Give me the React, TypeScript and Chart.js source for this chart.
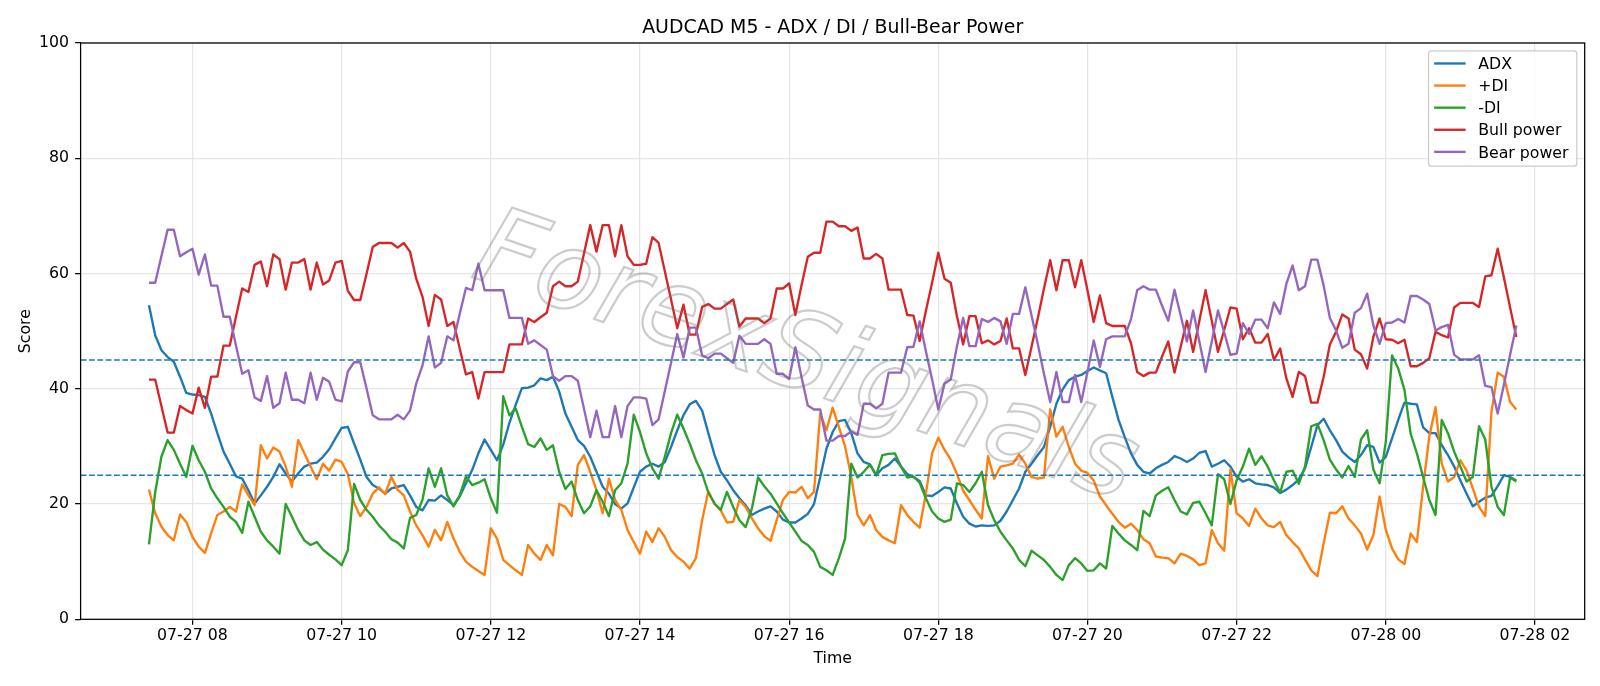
import { useEffect, useRef } from "react";
import { Chart, registerables } from "chart.js";

Chart.register(...registerables);

// M5 candles: first bar at 07-27 07:25, minutes counted from 07-27 00:00
const START_MINUTE = 445;
const STEP_MINUTES = 5;

const ADX = [
  54.5, 49.3, 46.7, 45.5, 44.7, 42.1, 39.3, 39.0, 38.9, 38.6,
  35.7, 32.3, 29.1, 27.0, 24.8, 24.4, 22.4, 20.1, 21.5, 23.0,
  24.7, 26.9, 25.3, 23.9, 25.3, 26.5, 27.0, 27.2, 28.2, 29.5,
  31.4, 33.2, 33.4, 30.5, 27.7, 24.7, 23.3, 22.7, 21.8, 22.7,
  23.0, 23.3, 21.5, 19.5, 18.9, 20.7, 20.6, 21.5, 20.7, 19.8,
  21.3, 23.6, 25.9, 28.8, 31.2, 29.4, 27.6, 30.3, 34.1, 37.2,
  40.1, 40.2, 40.6, 41.8, 41.5, 42.1, 39.5, 35.7, 33.4, 31.1,
  30.1, 28.2, 25.6, 23.0, 21.8, 20.0, 19.2, 20.1, 22.9, 25.6,
  26.5, 27.0, 26.5, 27.3, 29.9, 32.8, 35.4, 37.3, 37.9, 36.2,
  32.3, 28.5, 25.6, 24.1, 22.4, 21.0, 19.8, 18.1, 18.7, 19.2,
  19.6, 18.7, 17.3, 16.8, 16.8, 17.5, 18.3, 20.0, 24.7, 29.6,
  32.5, 34.4, 34.6, 32.3, 28.8, 27.3, 26.9, 25.0, 26.2, 26.8,
  27.9, 26.5, 25.2, 24.7, 24.0, 21.5, 21.4, 22.1, 22.9, 22.7,
  20.1, 17.8, 16.6, 16.1, 16.3, 16.2, 16.3, 17.1, 18.7, 20.7,
  22.7, 25.6, 27.0, 28.5, 29.9, 33.4, 37.4, 39.9, 41.5, 42.1,
  42.4, 43.1, 43.7, 43.2, 42.7, 38.6, 34.6, 31.6, 28.8, 26.8,
  25.6, 25.3, 26.2, 26.8, 27.3, 28.3, 27.9, 27.3, 27.9, 28.9,
  29.2, 26.5, 27.0, 27.6, 26.5, 24.7, 23.9, 24.3, 23.6, 23.4,
  23.3, 22.9, 21.9, 22.5, 23.3, 24.3, 26.2, 29.9, 33.7, 34.8,
  32.8, 31.1, 29.1, 28.1, 27.3, 28.5, 30.2, 29.9, 27.2, 28.2,
  31.4, 34.6, 37.6, 37.4, 37.3, 33.3, 32.3, 32.3, 30.2, 28.5,
  26.5, 24.1, 21.8, 19.6, 20.4, 21.1, 21.4, 23.1, 25.0, 24.7,
  24.1,
];

const PLUS_DI = [
  22.5, 18.4, 16.1, 14.6, 13.7, 18.2, 16.9, 14.3, 12.6, 11.5,
  14.9, 18.1, 18.7, 19.5, 18.7, 23.4, 21.5, 19.8, 30.2, 27.9,
  29.8, 29.1, 26.5, 23.0, 31.1, 28.8, 26.5, 24.3, 27.0, 25.8,
  27.7, 27.3, 25.2, 20.2, 17.9, 19.5, 21.8, 22.9, 21.7, 24.7,
  22.5, 21.5, 18.7, 16.3, 14.6, 12.6, 15.5, 13.7, 16.9, 14.0,
  11.7, 10.0, 9.1, 8.4, 7.7, 15.8, 14.0, 10.3, 9.4, 8.5,
  7.7, 12.9, 11.4, 10.3, 12.9, 11.1, 20.0, 19.5, 17.9, 26.8,
  28.5, 25.6, 22.4, 18.4, 24.4, 20.7, 19.0, 15.5, 13.4, 11.4,
  15.2, 13.4, 15.8, 14.3, 12.0, 10.8, 10.0, 8.8, 10.6, 17.2,
  22.2, 20.0, 18.9, 16.8, 16.9, 20.7, 19.5, 17.5, 15.8, 14.4,
  13.6, 17.2, 20.7, 22.1, 22.0, 23.0, 21.0, 22.1, 35.7, 32.8,
  36.7, 33.4, 30.0, 24.7, 18.1, 16.3, 18.1, 15.5, 14.3, 13.7,
  13.2, 19.8, 18.1, 16.9, 15.9, 21.8, 28.8, 31.5, 29.4, 27.7,
  25.2, 22.3, 20.7, 19.0, 17.5, 28.3, 24.4, 26.5, 26.7, 27.0,
  28.6, 27.0, 24.7, 24.4, 24.6, 36.4, 31.7, 33.4, 29.9, 27.0,
  25.8, 25.4, 24.1, 21.3, 19.8, 18.3, 16.9, 15.9, 16.6, 15.5,
  13.9, 13.2, 10.9, 10.7, 10.6, 9.7, 11.4, 11.0, 10.4, 9.4,
  9.7, 15.5, 13.2, 11.9, 26.0, 18.4, 17.5, 16.2, 19.2, 17.5,
  16.3, 16.0, 16.9, 14.6, 13.4, 12.3, 10.4, 8.5, 7.5, 13.2,
  18.5, 18.4, 19.6, 17.5, 16.3, 14.9, 12.1, 14.6, 21.3, 15.5,
  12.3, 10.4, 9.6, 14.9, 13.4, 23.0, 31.7, 36.8, 27.0, 23.9,
  24.7, 27.6, 25.8, 22.7, 19.5, 17.9, 36.0, 42.8, 42.1, 37.7,
  36.4,
];

const MINUS_DI = [
  13.0, 22.0, 28.2, 31.1, 29.4, 27.0, 24.7, 30.1, 27.6, 25.6,
  22.7, 21.0, 19.5, 17.8, 16.9, 15.0, 20.4, 17.8, 15.2, 13.7,
  12.6, 11.4, 20.0, 17.8, 15.5, 13.7, 12.9, 13.4, 12.1, 11.2,
  10.4, 9.4, 12.0, 23.5, 20.7, 19.0, 17.8, 16.3, 15.2, 13.9,
  13.3, 12.3, 17.6, 18.1, 20.7, 26.2, 23.0, 26.2, 21.5, 19.6,
  21.5, 24.8, 23.3, 23.7, 24.3, 21.0, 18.5, 38.7, 35.4, 36.6,
  33.4, 30.4, 29.9, 31.4, 29.4, 30.2, 25.6, 22.6, 23.9, 20.7,
  18.4, 19.6, 22.4, 20.4, 17.9, 22.4, 23.6, 27.0, 35.5, 32.5,
  28.8, 26.2, 24.4, 28.2, 32.3, 35.5, 33.1, 30.5, 27.6, 25.3,
  22.0, 20.1, 19.0, 22.1, 19.5, 17.2, 16.0, 19.2, 24.6, 23.1,
  21.8, 20.1, 18.4, 16.8, 15.2, 13.6, 12.9, 11.7, 9.1, 8.5,
  7.7, 10.6, 14.0, 27.0, 24.6, 25.6, 26.8, 25.0, 28.5, 28.7,
  28.8, 26.5, 24.6, 24.8, 23.7, 21.0, 18.7, 17.5, 16.9, 17.3,
  23.6, 23.3, 22.1, 23.6, 25.6, 19.8, 17.2, 15.2, 13.7, 12.3,
  10.3, 9.2, 11.9, 11.1, 10.3, 9.1, 7.7, 6.8, 9.4, 10.6,
  9.7, 8.4, 8.5, 9.7, 8.8, 16.2, 14.9, 13.7, 12.9, 12.0,
  18.8, 17.9, 21.5, 22.3, 22.9, 20.7, 18.7, 18.2, 20.2, 20.4,
  18.4, 16.3, 25.2, 24.3, 20.0, 24.1, 26.5, 29.6, 26.8, 28.3,
  26.5, 24.1, 22.0, 25.6, 25.8, 23.5, 26.5, 33.5, 33.9, 31.1,
  27.7, 26.0, 24.6, 26.6, 24.7, 31.2, 32.8, 26.0, 23.6, 30.8,
  45.8, 43.5, 39.8, 32.2, 28.8, 24.7, 20.7, 18.1, 34.6, 32.3,
  29.1, 26.5, 23.9, 24.7, 33.5, 31.2, 23.0, 19.5, 18.1, 24.6,
  23.9,
];

const BULL_POWER = [
  41.6, 41.6, 37.0, 32.4, 32.4, 37.0, 36.3, 35.7, 40.2, 36.7,
  42.1, 42.1, 47.5, 47.5, 52.5, 57.4, 56.8, 61.5, 62.1, 57.8,
  63.3, 62.5, 57.2, 61.9, 61.9, 62.5, 57.2, 61.9, 58.1, 58.8,
  61.9, 62.2, 57.0, 55.4, 55.4, 59.9, 64.6, 65.3, 65.3, 65.3,
  64.5, 65.3, 63.8, 59.1, 56.0, 50.9, 56.3, 55.5, 50.9, 51.6,
  47.0, 42.5, 42.9, 38.3, 42.9, 42.9, 42.9, 42.9, 47.7, 47.7,
  47.7, 52.2, 51.6, 52.4, 53.2, 57.8, 58.6, 57.8, 57.8, 58.6,
  63.5, 68.4, 63.8, 68.4, 68.4, 63.0, 68.4, 63.0, 61.5, 61.5,
  61.7, 66.3, 65.3, 60.4, 55.5, 50.5, 54.6, 49.4, 49.4, 54.2,
  54.7, 53.9, 53.9, 54.7, 55.5, 50.8, 52.2, 52.2, 52.2, 51.4,
  52.2, 57.4, 57.4, 58.3, 52.8, 58.0, 62.9, 63.6, 63.6, 69.0,
  69.0, 68.2, 68.2, 67.4, 68.0, 62.6, 62.6, 63.4, 62.6, 57.2,
  57.2, 57.2, 52.8, 52.7, 48.3, 53.5, 58.4, 63.6, 59.1, 58.4,
  52.6, 47.7, 52.6, 52.6, 47.9, 48.4, 47.7, 48.3, 52.2, 47.0,
  47.0, 42.4, 47.3, 52.2, 57.4, 62.3, 57.1, 62.3, 62.3, 57.6,
  62.3, 57.1, 51.6, 56.2, 51.4, 50.9, 50.9, 50.9, 47.9, 42.9,
  42.2, 42.8, 42.8, 45.6, 48.2, 42.8, 47.3, 51.8, 46.4, 51.8,
  57.1, 51.8, 46.4, 50.2, 54.1, 53.9, 48.6, 50.5, 48.0, 48.0,
  49.5, 45.0, 47.0, 41.8, 38.6, 42.9, 42.2, 37.6, 37.6, 42.1,
  47.7, 49.9, 52.9, 52.2, 46.8, 46.0, 43.5, 49.0, 52.2, 48.6,
  48.5, 47.9, 48.5, 43.9, 43.9, 44.5, 45.3, 49.9, 49.3, 48.9,
  54.1, 54.9, 54.9, 54.9, 54.2, 59.5, 59.7, 64.3, 59.3, 54.1,
  49.0,
];

const BEAR_POWER = [
  58.4, 58.4, 63.0, 67.6, 67.6, 63.0, 63.7, 64.3, 59.8, 63.3,
  57.9, 57.9, 52.5, 52.5, 47.5, 42.6, 43.2, 38.5, 37.9, 42.2,
  36.7, 37.5, 42.8, 38.1, 38.1, 37.5, 42.8, 38.1, 41.9, 41.2,
  38.1, 37.8, 43.0, 44.6, 44.6, 40.1, 35.4, 34.7, 34.7, 34.7,
  35.5, 34.7, 36.2, 40.9, 44.0, 49.1, 43.7, 44.5, 49.1, 48.4,
  53.0, 57.5, 57.1, 61.7, 57.1, 57.1, 57.1, 57.1, 52.3, 52.3,
  52.3, 47.8, 48.4, 47.6, 46.8, 42.2, 41.4, 42.2, 42.2, 41.4,
  36.5, 31.6, 36.2, 31.6, 31.6, 37.0, 31.6, 37.0, 38.5, 38.5,
  38.3, 33.7, 34.7, 39.6, 44.5, 49.5, 45.4, 50.6, 50.6, 45.8,
  45.3, 46.1, 46.1, 45.3, 44.5, 49.2, 47.8, 47.8, 47.8, 48.6,
  47.8, 42.6, 42.6, 41.7, 47.2, 42.0, 37.1, 36.4, 36.4, 31.0,
  31.0, 31.8, 31.8, 32.6, 32.0, 37.4, 37.4, 36.6, 37.4, 42.8,
  42.8, 42.8, 47.2, 47.3, 51.7, 46.5, 41.6, 36.4, 40.9, 41.6,
  47.4, 52.3, 47.4, 47.4, 52.1, 51.6, 52.3, 51.7, 47.8, 53.0,
  53.0, 57.6, 52.7, 47.8, 42.6, 37.7, 42.9, 37.7, 37.7, 42.4,
  37.7, 42.9, 48.4, 43.8, 48.6, 49.1, 49.1, 49.1, 52.1, 57.1,
  57.8, 57.2, 57.2, 54.4, 51.8, 57.2, 52.7, 48.2, 53.6, 48.2,
  42.9, 48.2, 53.6, 49.8, 45.9, 46.1, 51.4, 49.5, 52.0, 52.0,
  50.5, 55.0, 53.0, 58.2, 61.4, 57.1, 57.8, 62.4, 62.4, 57.9,
  52.3, 50.1, 47.1, 47.8, 53.2, 54.0, 56.5, 51.0, 47.8, 51.4,
  51.5, 52.1, 51.5, 56.1, 56.1, 55.5, 54.7, 50.1, 50.7, 51.1,
  45.9, 45.1, 45.1, 45.1, 45.8, 40.5, 40.3, 35.7, 40.7, 45.9,
  51.0,
];

const LEVELS = [45, 25];

const X_TICK_MINUTES = [480, 600, 720, 840, 960, 1080, 1200, 1320, 1440, 1560];
const X_TICK_LABELS = [
  "07-27 08", "07-27 10", "07-27 12", "07-27 14", "07-27 16",
  "07-27 18", "07-27 20", "07-27 22", "07-28 00", "07-28 02",
];
const Y_TICKS = [0, 20, 40, 60, 80, 100];

const TITLE = "AUDCAD M5 - ADX / DI / Bull-Bear Power";
const X_TITLE = "Time";
const Y_TITLE = "Score";
const WATERMARK = "ForexSignals";

const SERIES = [
  { label: "ADX", values: ADX, color: "#1f77b4" },
  { label: "+DI", values: PLUS_DI, color: "#ff7f0e" },
  { label: "-DI", values: MINUS_DI, color: "#2ca02c" },
  { label: "Bull power", values: BULL_POWER, color: "#d62728" },
  { label: "Bear power", values: BEAR_POWER, color: "#9467bd" },
];

const TIMES = ADX.map((_, i) => START_MINUTE + i * STEP_MINUTES);

const FONT = '"DejaVu Sans", "Liberation Sans", sans-serif';
const PT = 1.575; // pixels per typographic point in this figure

const W = 1600;
const H = 686;

const decorations = {
  id: "decorations",
  beforeDraw(chart: any) {
    const { ctx } = chart;
    ctx.save();
    ctx.fillStyle = "#ffffff";
    ctx.fillRect(0, 0, chart.width, chart.height);
    ctx.restore();
  },
  afterDatasetsDraw(chart: any) {
    const { ctx, chartArea: a } = chart;
    const y = chart.scales.y;
    ctx.save();
    ctx.beginPath();
    ctx.rect(a.left, a.top, a.right - a.left, a.bottom - a.top);
    ctx.clip();
    ctx.strokeStyle = "#1f77b4";
    ctx.lineWidth = 1 * PT;
    ctx.setLineDash([3.7 * PT, 1.6 * PT]);
    for (const lv of LEVELS) {
      const py = y.getPixelForValue(lv);
      ctx.beginPath();
      ctx.moveTo(a.left, py);
      ctx.lineTo(a.right, py);
      ctx.stroke();
    }
    ctx.setLineDash([]);

    // faint diagonal watermark across the middle of the plot
    ctx.translate(805, 362);
    ctx.rotate((19 * Math.PI) / 180);
    ctx.font = `oblique 108px ${FONT}`;
    ctx.textAlign = "center";
    ctx.textBaseline = "middle";
    ctx.lineWidth = 2.2;
    ctx.strokeStyle = "rgba(110,110,110,0.35)";
    ctx.strokeText(WATERMARK, 0, 0);
    ctx.restore();
  },
  afterDraw(chart: any) {
    const { ctx, chartArea: a } = chart;
    ctx.save();

    // axes frame
    ctx.strokeStyle = "#000000";
    ctx.lineWidth = 0.8 * PT;
    ctx.strokeRect(a.left, a.top, a.right - a.left, a.bottom - a.top);

    const cx = (a.left + a.right) / 2;
    ctx.fillStyle = "#000000";

    // title
    ctx.font = `${12 * PT}px ${FONT}`;
    ctx.textAlign = "center";
    ctx.textBaseline = "alphabetic";
    ctx.fillText(TITLE, cx, a.top - 10.3);

    // axis titles
    ctx.font = `${10 * PT}px ${FONT}`;
    ctx.fillText(X_TITLE, cx, 663);
    ctx.save();
    ctx.translate(30, (a.top + a.bottom) / 2);
    ctx.rotate(-Math.PI / 2);
    ctx.fillText(Y_TITLE, 0, 0);
    ctx.restore();

    // legend
    const fs = 10 * PT;
    const bx = a.right - 0.5 * fs - 148.3;
    const by = a.top + 0.5 * fs;
    const bw = 148.3;
    const bh = 115.3;
    ctx.beginPath();
    ctx.roundRect(bx, by, bw, bh, 3);
    ctx.fillStyle = "rgba(255,255,255,0.8)";
    ctx.fill();
    ctx.strokeStyle = "#cccccc";
    ctx.lineWidth = 1 * PT * 0.8;
    ctx.stroke();
    ctx.font = `${fs}px ${FONT}`;
    ctx.textAlign = "left";
    ctx.textBaseline = "alphabetic";
    chart.data.datasets.forEach((ds: any, i: number) => {
      const ry = by + 12.6 + i * 22.1;
      ctx.strokeStyle = ds.borderColor;
      ctx.lineWidth = 1.5 * PT;
      ctx.beginPath();
      ctx.moveTo(bx + 5.6, ry);
      ctx.lineTo(bx + 5.6 + 2 * fs, ry);
      ctx.stroke();
      ctx.fillStyle = "#000000";
      ctx.fillText(ds.label, bx + 5.6 + 2.8 * fs, ry + 5.7);
    });
    ctx.restore();
  },
};

export default function App() {
  const canvasRef = useRef<HTMLCanvasElement | null>(null);

  useEffect(() => {
    document.body.style.margin = "0";
    const canvas = canvasRef.current;
    if (!canvas) return;

    const datasets = SERIES.map((s, i) => ({
      label: s.label,
      data: s.values.map((v, k) => ({ x: TIMES[k], y: v })),
      borderColor: s.color,
      backgroundColor: s.color,
      borderWidth: 1.5 * PT,
      borderJoinStyle: "round",
      borderCapStyle: "butt",
      pointRadius: 0,
      pointHoverRadius: 0,
      tension: 0,
      fill: false,
      order: SERIES.length - 1 - i,
    }));

    const chart = new Chart(canvas, {
      type: "line",
      data: { datasets } as any,
      options: {
        animation: false,
        responsive: false,
        devicePixelRatio: 1,
        events: [],
        layout: { padding: { top: 43, right: W - 1584.7, bottom: 0, left: 0 } },
        plugins: {
          legend: { display: false },
          title: { display: false },
          tooltip: { enabled: false },
        },
        scales: {
          x: {
            type: "linear",
            min: 390,
            max: 1600,
            afterBuildTicks: (axis: any) => {
              axis.ticks = X_TICK_MINUTES.map((v) => ({ value: v }));
            },
            afterFit: (axis: any) => {
              axis.height = H - 619.3;
            },
            ticks: {
              autoSkip: false,
              maxRotation: 0,
              minRotation: 0,
              padding: 1.8,
              color: "#000000",
              font: { family: FONT, size: 10 * PT },
              callback: (value: any) => {
                const idx = X_TICK_MINUTES.indexOf(Number(value));
                return idx >= 0 ? X_TICK_LABELS[idx] : "";
              },
            },
            grid: {
              color: "#e6e6e6",
              lineWidth: 0.8 * PT,
              tickColor: "#000000",
              tickWidth: 0.8 * PT,
              tickLength: 3.5 * PT,
            },
            border: { display: false },
          },
          y: {
            type: "linear",
            min: 0,
            max: 100,
            afterBuildTicks: (axis: any) => {
              axis.ticks = Y_TICKS.map((v) => ({ value: v }));
            },
            afterFit: (axis: any) => {
              axis.width = 80.6;
            },
            ticks: {
              padding: 6.1,
              color: "#000000",
              font: { family: FONT, size: 10 * PT },
              callback: (value: any) => String(value),
            },
            grid: {
              color: "#e6e6e6",
              lineWidth: 0.8 * PT,
              tickColor: "#000000",
              tickWidth: 0.8 * PT,
              tickLength: 3.5 * PT,
            },
            border: { display: false },
          },
        },
      } as any,
      plugins: [decorations],
    });

    return () => chart.destroy();
  }, []);

  return (
    <div style={{ width: W, height: H }}>
      <canvas
        ref={canvasRef}
        width={W}
        height={H}
        style={{ display: "block", width: W, height: H }}
      />
    </div>
  );
}
